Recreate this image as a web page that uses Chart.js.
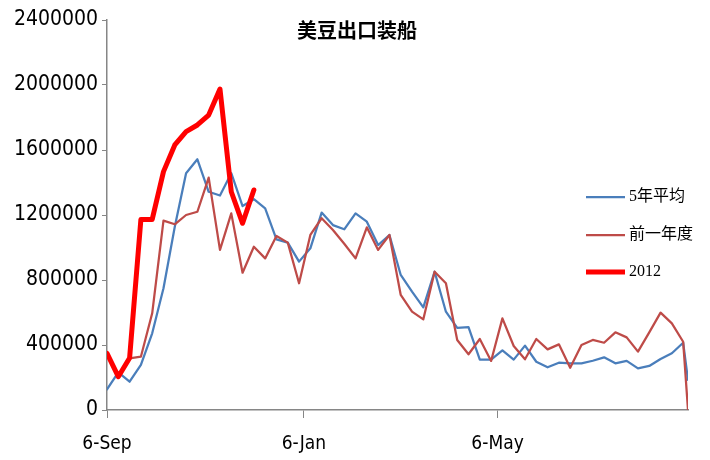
<!DOCTYPE html>
<html>
<head>
<meta charset="utf-8">
<script src="https://cdn.jsdelivr.net/npm/chart.js@4"></script>
<style>
html, body { margin: 0; padding: 0; background: #fff; }
</style>
</head>
<body>
<canvas id="chart" width="710" height="460"></canvas>
<script>
'use strict';

// 周数据：距 9 月 6 日的天数
const dayOffsets = [0, 7, 14, 21, 28, 35, 42, 49, 56, 63, 70, 77, 84, 91, 98, 105, 112,
    119, 126, 133, 140, 147, 154, 161, 168, 175, 182, 189, 196, 203, 210, 217, 224, 231,
    238, 245, 252, 259, 266, 273, 280, 287, 294, 301, 308, 315, 322, 329, 336, 343, 350,
    357, 360];

const seriesNames = ['5年平均', '前一年度', '2012'];

const avg5Years = [127000, 232000, 174000, 277000, 472000, 749000, 1128000, 1457000,
    1543000, 1343000, 1320000, 1457000, 1255000, 1297000, 1241000, 1050000, 1030000,
    913000, 995000, 1215000, 1138000, 1112000, 1210000, 1159000, 1015000, 1077000,
    831000, 728000, 632000, 851000, 605000, 505000, 510000, 310000, 310000, 367000,
    310000, 396000, 297000, 263000, 291000, 287000, 287000, 303000, 324000, 287000,
    302000, 256000, 271000, 314000, 349000, 414000, 185000];

const prevYear = [340000, 210000, 318000, 328000, 595000, 1165000, 1143000, 1200000,
    1220000, 1430000, 985000, 1210000, 845000, 1005000, 933000, 1071000, 1030000,
    780000, 1077000, 1180000, 1108000, 1023000, 933000, 1124000, 985000, 1077000,
    708000, 605000, 558000, 851000, 780000, 431000, 343000, 437000, 302000, 564000,
    394000, 312000, 437000, 373000, 404000, 260000, 400000, 431000, 414000, 478000,
    447000, 359000, 478000, 599000, 533000, 420000, 0];

const year2012 = [349000, 205000, 320000, 1173000, 1173000, 1467000, 1631000, 1713000,
    1754000, 1815000, 1975000, 1343000, 1149000, 1354000];

// x 轴刻度（天数）和标签
const xTickDays = [0, 122, 242];
const xTickLabels = ['6-Sep', '6-Jan', '6-May'];

const seriesColors = ['#4a7ebb', '#be4b48', '#ff0000'];
const seriesWidths = [2.25, 2.25, 5];

function toPoints(values) {
    return values.map((v, i) => ({ x: dayOffsets[i], y: v }));
}

// 标题和图例直接画在绘图区里
const decorPlugin = {
    id: 'decor',
    afterDraw(chart) {
        const ctx = chart.ctx;
        ctx.save();
        ctx.fillStyle = '#000';
        ctx.font = 'bold 20px "Noto Sans CJK SC"';
        ctx.textAlign = 'center';
        ctx.textBaseline = 'middle';
        ctx.fillText('美豆出口装船', 357, 30);

        const rows = [197, 235, 272];
        ctx.font = '16px "Liberation Serif", "Noto Sans CJK SC"';
        ctx.textAlign = 'left';
        seriesNames.forEach((name, i) => {
            ctx.strokeStyle = seriesColors[i];
            ctx.lineWidth = seriesWidths[i];
            ctx.lineCap = 'butt';
            ctx.beginPath();
            ctx.moveTo(586, rows[i]);
            ctx.lineTo(625, rows[i]);
            ctx.stroke();
            ctx.fillText(name, 629, rows[i]);
        });
        ctx.restore();
    },
};

const axisColor = '#868686';
const fontFamily = '"DejaVu Sans Condensed", "DejaVu Sans", sans-serif';

const ctx = document.getElementById('chart').getContext('2d');
new Chart(ctx, {
    type: 'line',
    data: {
        datasets: [
            { label: seriesNames[0], data: toPoints(avg5Years), order: 3 },
            { label: seriesNames[1], data: toPoints(prevYear), order: 2 },
            { label: seriesNames[2], data: toPoints(year2012), order: 1 },
        ].map((ds, i) => Object.assign(ds, {
            borderColor: seriesColors[i],
            backgroundColor: seriesColors[i],
            borderWidth: seriesWidths[i],
            pointRadius: 0,
            tension: 0,
            borderJoinStyle: 'round',
            borderCapStyle: 'round',
            fill: false,
        })),
    },
    options: {
        responsive: false,
        animation: false,
        layout: { padding: { top: 20, right: 22, bottom: 0, left: 0 } },
        plugins: {
            legend: { display: false },
            title: { display: false },
            tooltip: { enabled: false },
        },
        scales: {
            x: {
                type: 'linear',
                min: 0,
                max: 360,
                afterBuildTicks: (scale) => {
                    scale.ticks = xTickDays.map((v) => ({ value: v }));
                },
                afterFit: (scale) => { scale.height = 50; },
                ticks: {
                    autoSkip: false,
                    maxRotation: 0,
                    padding: 15,
                    color: '#000',
                    font: { family: fontFamily, size: 19 },
                    callback: (v) => xTickLabels[xTickDays.indexOf(v)],
                },
                grid: { drawOnChartArea: false, drawTicks: true, tickLength: 8, color: axisColor },
                border: { color: axisColor, width: 1.5 },
            },
            y: {
                min: 0,
                max: 2400000,
                afterFit: (scale) => { scale.width = 107; },
                ticks: {
                    stepSize: 400000,
                    padding: 4,
                    color: '#000',
                    font: { family: fontFamily, size: 21 },
                    callback: (v) => String(v),
                },
                grid: { drawOnChartArea: false, drawTicks: true, tickLength: 5, color: axisColor },
                border: { color: axisColor, width: 1.5 },
            },
        },
    },
    plugins: [decorPlugin],
});
</script>
</body>
</html>
